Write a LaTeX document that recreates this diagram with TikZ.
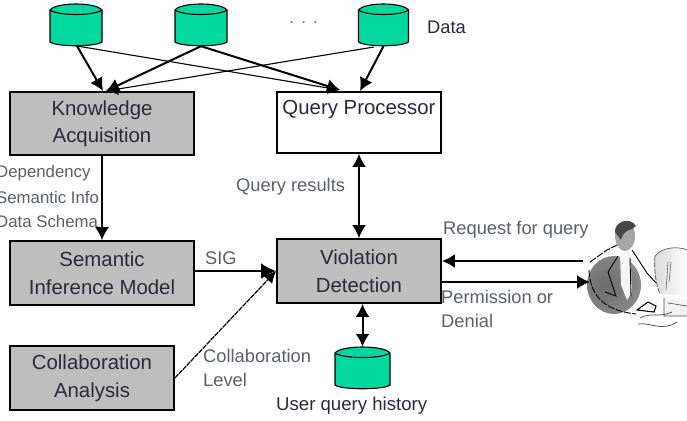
\documentclass[tikz,border=0pt]{standalone}
\usepackage{fontspec}
\setmainfont{Liberation Sans}
\usetikzlibrary{arrows.meta}
\definecolor{dbgreen}{HTML}{00D8A0}
\definecolor{boxgrey}{HTML}{BEBEBE}
\definecolor{inkdark}{HTML}{2A2A38}
\definecolor{inksoft}{HTML}{5A5F68}
\pgfdeclareradialshading{suitshade}{\pgfpoint{-10bp}{0bp}}{%
  rgb(0bp)=(0.42,0.42,0.42);rgb(25bp)=(0.52,0.52,0.52);
  rgb(42bp)=(0.68,0.68,0.68);rgb(50bp)=(0.88,0.88,0.88)}
\tikzset{
  module/.style={draw=black,line width=1.8pt,fill=boxgrey,align=center,inner sep=0pt,
    text=inkdark,font=\fontsize{20.4}{27.5}\selectfont},
  storebody/.style={draw=black,line width=1.1pt,fill=dbgreen},
  tag/.style={text=inksoft,align=left,inner sep=0pt,font=\fontsize{18.3}{24}\selectfont},
  sidetag/.style={tag,anchor=west,font=\fontsize{16.8}{24}\selectfont},
  thin link/.style={line width=1.1pt,-{Latex[length=12pt,width=12pt]}},
  thick link/.style={line width=2pt,-{Latex[length=13pt,width=14pt]}},
  big link/.style={line width=2.6pt,-{Latex[length=15pt,width=16pt]}},
  both link/.style={line width=2pt,{Latex[length=13pt,width=14pt]}-{Latex[length=13pt,width=14pt]}}
}
% A data store: an invisible named node carrying a drawn cylinder.
% #1 name, #2 centre x, #3 centre y, #4 half width, #5 half height
\newcommand{\datastore}[5]{%
  \node[minimum width=2*#4 pt,minimum height=2*#5 pt,inner sep=0pt] (#1) at (#2,#3) {};
  \draw[storebody] (#2-#4,#3-#5+6) -- (#2-#4,#3+#5-4)
    .. controls (#2-#4+6,#3+#5+1) and (#2+#4-6,#3+#5+1) .. (#2+#4,#3+#5-4)
    -- (#2+#4,#3-#5+6)
    .. controls (#2+#4-6,#3-#5-2) and (#2-#4+6,#3-#5-2) .. (#2-#4,#3-#5+6) -- cycle;
  \draw[black,line width=1.1pt] (#2-#4,#3-#5+6)
    .. controls (#2-#4+8,#3-#5+12) and (#2+#4-8,#3-#5+12) .. (#2+#4,#3-#5+6);
}
\begin{document}
\begin{tikzpicture}[x=1pt,y=-1pt]
\useasboundingbox (0,0) rectangle (687,420);
\fill[white] (0,0) rectangle (687,420);

% processing modules
\node[module,minimum width=184pt,minimum height=63pt] (ka) at (102,123.5) {Knowledge\\Acquisition};
\node[module,fill=white,minimum width=164pt,minimum height=61pt,text height=15pt,text depth=32pt] (qp) at (359,122.5) {Query Processor};
\node[module,minimum width=184pt,minimum height=64pt] (sim) at (102,273) {Semantic\\Inference Model};
\node[module,minimum width=164pt,minimum height=64pt] (vd) at (359,271) {Violation\\Detection};
\node[module,minimum width=164pt,minimum height=64pt] (ca) at (92,378) {Collaboration\\Analysis};

% data stores
\datastore{d1}{76}{25}{26}{21}
\datastore{d2}{201}{25}{26}{21}
\datastore{d3}{383.5}{25}{25}{21}
\datastore{uh}{362.5}{368}{27.5}{21}

% the workstation user
\coordinate (userin) at (583,261);
\coordinate (userout) at (590,282);
\shade[shading=suitshade] (614,285) ellipse (27 and 29);
\fill[white!92!gray] (620,254) -- (630,250) -- (632,292) -- (627,300) -- (621,285) -- cycle;
\fill[gray!70] (625,236) ellipse (10 and 15);
\fill[black!72] (615,232) .. controls (614,222) and (630,216) .. (636,226) .. controls (632,231) and (624,228) .. (621,240) -- cycle;
\shade[left color=gray!30,right color=white] (655,256) .. controls (662,247) and (678,246) .. (687,250) -- (687,296) -- (660,294) .. controls (655,282) and (654,268) .. (655,256) -- cycle;
\draw[black!70,line width=.7pt,dash pattern=on 5pt off 1.5pt] (655,256) .. controls (654,268) and (655,282) .. (660,294);
\draw[black!70,line width=.6pt] (655,256) .. controls (662,247) and (678,246) .. (687,250);
\draw[black!60,line width=.6pt] (668,262) -- (666,290) (671,262) -- (669,282);
\fill[gray!10] (664,298) -- (687,300) -- (687,316) -- (664,316) -- cycle;
\draw[black!70,line width=.6pt] (664,298) -- (664,316) -- (687,316) (668,303) -- (687,306);
\draw[black,line width=.9pt,dash pattern=on 7pt off 1.5pt] (590,262) -- (607,250) -- (617,245);
\draw[black,line width=.9pt,dash pattern=on 7pt off 1.5pt] (589,270) .. controls (590,292) and (600,310) .. (636,314);
\draw[black,line width=.9pt] (618,256) -- (608,272) -- (616,296) -- (605,292) (632,250) -- (647,273) -- (656,283) (630,258) -- (631,296);
\draw[black,line width=1.1pt] (637,310) -- (648,302) -- (656,306) -- (654,312) -- cycle;
\draw[black!75,line width=.7pt] (640,318) .. controls (650,312) and (660,318) .. (672,312);
\draw[black!75,line width=.7pt] (638,324) .. controls (650,322) and (662,332) .. (677,322);

% links from the data stores
\coordinate (kain1) at (103,91);
\coordinate (kain2) at (106,91);
\coordinate (qpin1) at (340,90);
\coordinate (qpin2) at (360,91);
\coordinate (d1out) at (77,46);
\coordinate (d3out) at (374,47);
\draw[thick link] (d1out) -- (kain1);
\draw[thin link] (d1out) -- (qpin1);
\draw[thick link] (d2.south) -- (kain2);
\draw[thick link] (d2.south) -- (qpin1);
\draw[thin link] (d3out) -- (kain2);
\draw[thick link] (d3.south) -- (qpin2);

% links between the modules
\draw[thick link,line width=1.5pt] (ka.south) -- (sim.north);
\coordinate (simout) at (sim.east|-vd.west);
\draw[big link] (simout) -- (vd.west);
\draw[thin link,line width=1.2pt,dash pattern=on 5pt off .8pt] (ca.east) -- (vd.west);
\draw[both link] (vd.north) -- (qp.south);
\coordinate (vdlow) at (vd.south-|uh.north);
\draw[both link] (vdlow) -- (uh.north);
\coordinate (vdin) at (vd.east|-userin);
\coordinate (vdout) at (vd.east|-userout);
\draw[thick link] (userin) -- (vdin);
\draw[thick link] (vdout) -- (userout);

% labels
\node[tag,anchor=west,text=inkdark] (tdata) at (427,27) {Data};
\node[tag,anchor=west,text=gray] (tdots) at (289,23) {. . .};
\node[sidetag] (tdep) at (-4,173) {Dependency};
\node[sidetag] (tsem) at (-4,197) {Semantic Info};
\node[sidetag] (tsch) at (-4,221) {Data Schema};
\node[tag,anchor=west] (tres) at (236,187) {Query results};
\node[tag,anchor=west] (tsig) at (205,258) {SIG};
\node[tag,anchor=north west] (tcol) at (203,349) {Collaboration\\Level};
\node[tag,anchor=west] (treq) at (443,230) {Request for query};
\node[tag,anchor=north west] (tper) at (441,290.5) {Permission or\\Denial};
\node[tag,anchor=west,text=inkdark,font=\fontsize{18.6}{24}\selectfont] (thist) at (276,406) {User query history};
\end{tikzpicture}
\end{document}
